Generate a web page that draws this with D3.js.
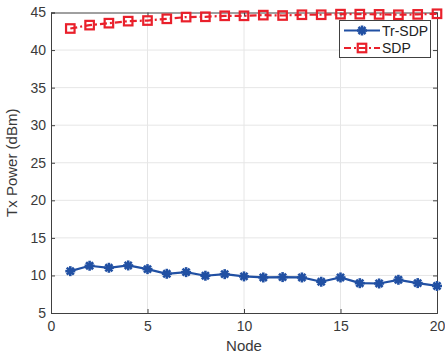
<!DOCTYPE html>
<html>
<head>
<meta charset="utf-8">
<script src="https://cdn.jsdelivr.net/npm/d3@7"></script>
<style>
  html, body { margin: 0; padding: 0; background: #fff; }
  svg { display: block; font-family: "Liberation Sans", Arial, sans-serif; }
</style>
</head>
<body>
<svg id="chart" width="445" height="358"></svg>
<script>
// Transmit power per node for the two schemes
const nodes = d3.range(1, 21);
const trSdp = [10.57, 11.29, 11.02, 11.33, 10.84, 10.22, 10.44, 9.96, 10.17, 9.87,
               9.73, 9.78, 9.73, 9.16, 9.73, 8.97, 8.93, 9.42, 8.98, 8.60];
const sdp = [42.87, 43.32, 43.58, 43.85, 43.93, 44.16, 44.39, 44.43, 44.56, 44.56,
             44.65, 44.60, 44.70, 44.70, 44.78, 44.78, 44.75, 44.70, 44.75, 44.83];
const xTicks = [0, 5, 10, 15, 20];
const yTicks = [5, 10, 15, 20, 25, 30, 35, 40, 45];
const seriesNames = ["Tr-SDP", "SDP"];

const svg = d3.select("#chart");
const m = { left: 51, right: 437, top: 12.5, bottom: 313 };

const x = d3.scaleLinear().domain([0, 20]).range([m.left, m.right]);
const y = d3.scaleLinear().domain([5, 45]).range([m.bottom, m.top]);

const blue = "#2150a3";
const red = "#e9202b";
const axisColor = "#404040";

// grid
const grid = svg.append("g");
grid.selectAll(".gx").data(xTicks.slice(1, -1)).join("line")
  .attr("x1", d => x(d)).attr("x2", d => x(d))
  .attr("y1", m.top).attr("y2", m.bottom)
  .attr("stroke", "#e6e6e6").attr("stroke-width", 1);
grid.selectAll(".gy").data(yTicks.slice(1, -1)).join("line")
  .attr("y1", d => y(d)).attr("y2", d => y(d))
  .attr("x1", m.left).attr("x2", m.right)
  .attr("stroke", "#e6e6e6").attr("stroke-width", 1);

// axes
const xAxis = svg.append("g").attr("transform", `translate(0,${m.bottom})`)
  .call(d3.axisBottom(x).tickValues(xTicks).tickSize(-4).tickPadding(8));
const yAxis = svg.append("g").attr("transform", `translate(${m.left},0)`)
  .call(d3.axisLeft(y).tickValues(yTicks).tickSize(-4).tickPadding(5));
const xTop = svg.append("g").attr("transform", `translate(0,${m.top})`)
  .call(d3.axisTop(x).tickValues(xTicks).tickSize(-4).tickFormat(""));
const yRight = svg.append("g").attr("transform", `translate(${m.right},0)`)
  .call(d3.axisRight(y).tickValues(yTicks).tickSize(-4).tickFormat(""));

[xAxis, yAxis, xTop, yRight].forEach(g => {
  g.select(".domain").attr("stroke", axisColor).attr("stroke-width", 1);
  g.selectAll(".tick line").attr("stroke", axisColor);
  g.selectAll(".tick text").attr("fill", "#3a3a3a").attr("font-size", 14)
    .attr("font-family", "'Liberation Sans', Arial, sans-serif");
});

// axis titles
svg.append("text").attr("x", (m.left + m.right) / 2).attr("y", 351)
  .attr("text-anchor", "middle").attr("font-size", 15).attr("fill", "#3a3a3a")
  .text("Node");
svg.append("text")
  .attr("transform", `translate(17,${(m.top + m.bottom) / 2}) rotate(-90)`)
  .attr("text-anchor", "middle").attr("font-size", 15).attr("fill", "#3a3a3a")
  .text("Tx Power (dBm)");

// series lines
const line = d3.line().x((d, i) => x(nodes[i])).y(d => y(d));

svg.append("path").datum(trSdp).attr("d", line)
  .attr("fill", "none").attr("stroke", blue).attr("stroke-width", 2.2);
svg.append("path").datum(sdp).attr("d", line)
  .attr("fill", "none").attr("stroke", red).attr("stroke-width", 2.2)
  .attr("stroke-dasharray", "7,3,2,3");

// asterisk marker
function asterisk(g, cx, cy, r, color) {
  const a = g.append("g").attr("transform", `translate(${cx},${cy})`);
  [0, 45, 90, 135].forEach(ang => {
    a.append("line").attr("x1", -r).attr("x2", r).attr("y1", 0).attr("y2", 0)
      .attr("transform", `rotate(${ang})`)
      .attr("stroke", color).attr("stroke-width", 2.6);
  });
  a.append("circle").attr("r", r * 0.55).attr("fill", color);
}
function square(g, cx, cy, s, color) {
  g.append("rect").attr("x", cx - s / 2).attr("y", cy - s / 2)
    .attr("width", s).attr("height", s)
    .attr("fill", "none").attr("stroke", color).attr("stroke-width", 2.2);
}

const mk = svg.append("g");
trSdp.forEach((v, i) => asterisk(mk, x(nodes[i]), y(v), 5, blue));
sdp.forEach((v, i) => square(mk, x(nodes[i]), y(v), 8.5, red));

// legend
const lg = svg.append("g");
lg.append("rect").attr("x", 339.5).attr("y", 20.5).attr("width", 91).attr("height", 37)
  .attr("fill", "#fff").attr("stroke", axisColor).attr("stroke-width", 1);
lg.append("line").attr("x1", 344).attr("x2", 380).attr("y1", 30.5).attr("y2", 30.5)
  .attr("stroke", blue).attr("stroke-width", 2.2);
asterisk(lg, 362, 30.5, 5, blue);
lg.append("line").attr("x1", 344).attr("x2", 380).attr("y1", 48).attr("y2", 48)
  .attr("stroke", red).attr("stroke-width", 2.2).attr("stroke-dasharray", "7,3,2,3");
square(lg, 362, 48, 8.5, red);
lg.selectAll("text.lbl").data(seriesNames).join("text")
  .attr("x", 382).attr("y", (d, i) => i === 0 ? 35.5 : 53)
  .attr("font-size", 14).attr("fill", "#222").text(d => d);
</script>
</body>
</html>
